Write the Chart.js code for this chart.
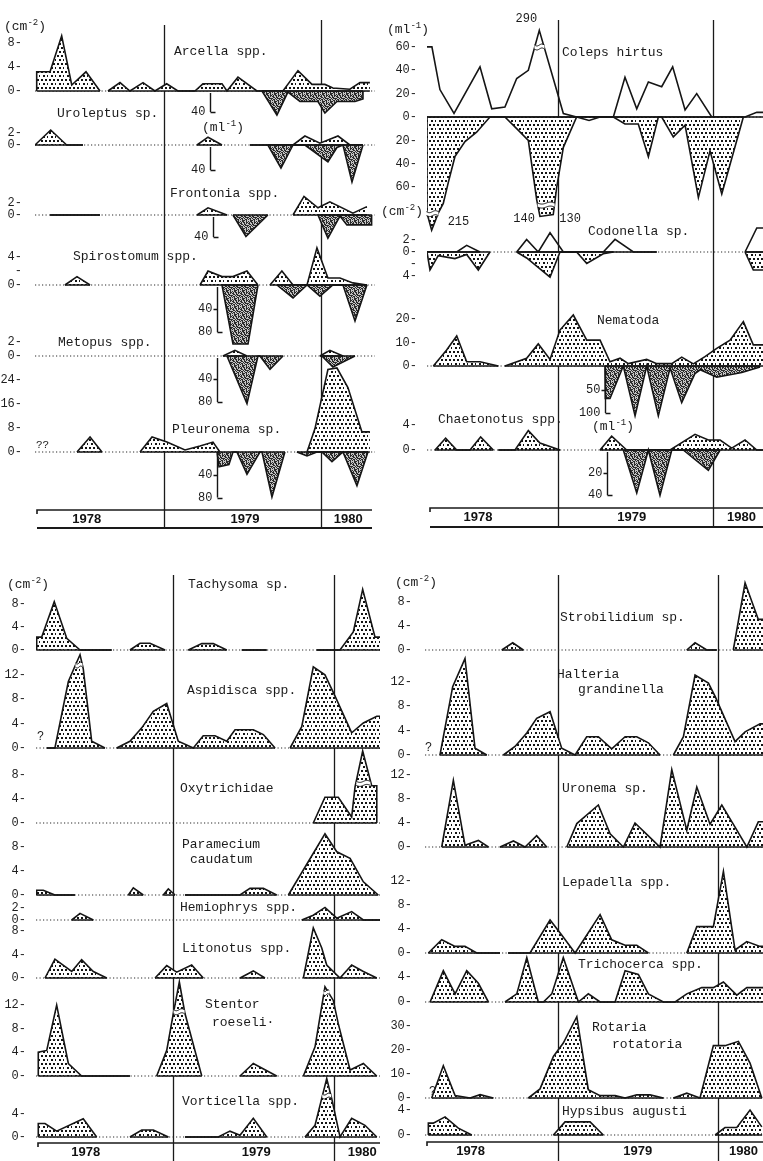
<!DOCTYPE html>
<html lang="en">
<head>
<meta charset="utf-8">
<title>Protozoa and micro-metazoa, 1978–1980</title>
<script src="https://cdn.jsdelivr.net/npm/chart.js@4.4.1/dist/chart.umd.min.js"></script>
<style>
  html, body { margin: 0; padding: 0; background: #fff; }
  #page { position: relative; width: 763px; height: 1161px; overflow: hidden; background: #fff; }
  #page canvas { position: absolute; }
  .t { position: absolute; font: 13px "Liberation Mono", "DejaVu Sans Mono", monospace; color: #1b1b1b; white-space: nowrap; line-height: 16px; }
  .t sup { font-size: 9px; line-height: 0; vertical-align: 5px; }
</style>
</head>
<body>
<div id="page"></div>
<script>
// Time axis: months counted from 1 January 1978 (12 = Jan 1979, 24 = Jan 1980).
const YEARS = ['1978', '1979', '1980'];
const YEAR_STARTS = [12, 24];

// Each series: [month, density]; null marks an interruption of sampling.
// ---- left upper block: periphyton (cm-2, upward) / plankton (ml-1, downward) ----
const ARCELLA_CM2 = [[2.27,0],[2.27,3.2],[3.29,3.2],[4.18,9.2],[4.95,1.0],[6.04,3.2],[7.11,0],[7.4,null],[7.72,0],[8.64,1.4],[9.40,0],[10.40,1.4],[11.31,0],[12.21,1.2],[13.07,0],[14.37,0],[14.98,1.2],[16.44,1.2],[16.82,0],[17.66,2.3],[19.11,0],[21.10,0],[22.25,3.4],[23.32,1.1],[24.31,1.1],[24.92,0.5],[26.22,0.3],[26.99,1.4],[27.75,1.4]];
const ARCELLA_ML = [[19.50,0],[20.64,46],[21.48,2],[22.40,20],[23.78,20],[24.31,42],[25.23,20],[26.61,20],[27.22,15],[27.22,0]];
const UROLEPTUS_CM2 = [[2.14,0],[3.34,2.5],[4.56,0],[5.81,0],[6.5,null],[14.53,0],[15.37,1.3],[16.44,0],[17.5,null],[18.58,0],[21.87,0],[22.78,1.5],[23.93,0.3],[25.31,1.5],[26.22,0],[27.22,0]];
const UROLEPTUS_ML = [[19.95,0],[20.95,37],[21.87,0],[22.78,0],[24.54,27],[25.23,4],[25.69,0],[26.38,59],[27.22,0]];
const FRONTONIA_CM2 = [[3.29,0],[7.11,0],[7.5,null],[14.53,0],[15.37,1.2],[16.82,0],[17.5,null],[21.87,0],[22.71,3.1],[23.78,1.2],[24.69,2.2],[26.45,0.3],[27.52,1.4]];
const FRONTONIA_ML = [[17.28,0],[18.27,39],[19.95,0],[20.5,null],[23.78,0],[24.54,42],[25.46,2],[25.99,18],[27.88,18],[27.88,0]];
const SPIROSTOMUM_CM2 = [[4.43,0],[5.35,1.2],[6.35,0],[6.8,null],[14.76,0],[15.37,2],[16.44,1.2],[17.28,1.2],[18.35,2],[19.19,0],[19.6,null],[20.11,0],[21.02,2],[21.87,0],[22.94,0],[23.70,5.3],[24.54,1],[25.46,1],[26.45,0.3],[27.52,0]];
const SPIROSTOMUM_ML = [[16.44,0],[17.28,100],[18.43,100],[19.19,0],[19.6,null],[20.64,0],[21.87,22],[22.94,0],[23.93,19],[24.92,0],[25.69,0],[26.61,61],[27.52,0]];
const METOPUS_CM2 = [[16.51,0],[17.43,0.8],[18.35,0],[18.8,null],[23.93,0],[24.69,0.8],[25.69,0]];
const METOPUS_ML = [[16.82,0],[18.35,83],[19.19,0],[19.34,0],[20.11,23],[21.10,0],[21.5,null],[24.08,0],[24.92,19],[26.61,0]];
const PLEURONEMA_CM2 = [[5.35,0],[6.35,5],[7.26,0],[7.6,null],[10.17,0],[11.09,5],[12.23,3.3],[13.61,0.7],[14.76,2],[15.75,3.3],[16.28,0],[16.6,null],[22.94,0],[23.55,7.8],[24.54,27.5],[25.23,28],[26.07,21.5],[27.14,6.7],[27.75,6.7]];
const PLEURONEMA_ML = [[16.06,0],[16.21,26],[16.97,22],[17.28,0],[17.58,0],[18.35,39],[19.34,0],[19.50,0],[20.26,79],[21.25,0],[21.6,null],[22.17,0],[22.94,7],[23.70,0],[24.08,0],[24.85,17],[25.69,0],[26.76,59],[27.60,0]];

// ---- right upper block ----
const COLEPS_ML = [[1.86,61],[2.24,61],[2.86,23.5],[3.95,3],[5.96,43],[6.87,7],[7.89,8.6],[8.80,33],[9.70,40],[10.55,290],[11.63,33],[12.41,3],[13.44,0],[16.28,0],[17.18,34],[18.09,7],[18.99,30],[20.02,26],[20.87,43],[21.83,6],[22.73,20],[23.89,0],[26.47,0],[27.38,4],[27.86,4]];
const COLEPS_CM2 = [[1.86,0],[1.86,122],[2.22,215],[2.73,122],[3.12,74],[3.51,56],[4.02,34],[4.80,21],[5.70,13],[6.73,0],[7.89,0],[8.80,10],[9.70,20],[10.35,71],[10.60,140],[11.63,130],[11.90,60],[12.41,26],[13.44,0],[14.40,3],[15.25,0],[16.28,0],[17.18,6],[18.21,6],[18.99,34],[19.76,0],[20.02,0],[20.92,17],[21.83,7],[22.86,69],[23.76,29],[24.67,66],[26.34,0]];
const CODONELLA_ML = [[1.86,0],[4.16,0],[4.93,1.1],[5.96,0],[6.2,null],[8.80,0],[9.57,2.1],[10.47,0],[11.38,3.2],[12.41,0],[13.44,0],[15.50,0],[16.41,2.1],[17.83,0],[19.64,0],[20.0,null],[26.47,0],[27.38,4],[27.86,4]];
const CODONELLA_CM2 = [[1.86,0],[2.09,3],[2.73,0.6],[4.02,1.1],[4.93,0.4],[5.83,3],[6.73,0],[7.2,null],[8.80,0],[9.57,1],[11.38,4.2],[12.15,0],[13.44,0],[14.22,1.9],[15.50,0.3],[16.28,0],[16.8,null],[26.47,0],[27.11,3],[27.86,3]];
const NEMATODA_CM2 = [[2.35,0],[3.38,6.8],[4.16,12.8],[4.93,1.8],[5.96,1.8],[7.38,0],[7.6,null],[7.89,0],[9.57,3.3],[10.47,9.4],[11.38,2.8],[12.15,15.3],[13.18,21.7],[14.22,11],[15.25,11],[16.02,1.8],[16.80,3.3],[17.44,1],[18.86,2.8],[19.64,1],[20.80,1],[21.57,3.8],[22.47,0.9],[23.37,4],[24.28,7.5],[25.31,11],[26.34,18.9],[27.11,9],[27.86,9]];
const NEMATODA_ML = [[15.63,0],[15.66,69],[16.02,69],[17.05,0],[17.96,106],[18.86,0],[19.76,106],[20.67,4],[21.57,78],[22.60,16],[23.0,8],[24.28,24],[26.22,14],[27.63,2]];
const CHAETONOTUS_CM2 = [[2.48,0],[3.30,1.9],[4.16,0],[5.19,0],[6.01,2.1],[6.99,0],[7.2,null],[7.38,0],[8.67,0],[9.70,3.1],[10.60,1.1],[12.15,0],[12.6,null],[15.25,0],[16.15,2.2],[17.31,0],[20.67,0],[22.60,2.5],[23.63,1.6],[24.54,1.6],[25.44,0.3],[26.47,1.6],[27.38,0],[27.86,0]];
const CHAETONOTUS_ML = [[17.05,0],[18.09,38],[18.99,0],[19.89,40],[20.80,0],[21.69,0],[23.63,18],[24.54,0]];

// ---- left lower block (cm-2) ----
const TACHYSOMA_CM2 = [[1.84,0],[1.84,2.2],[2.21,2.2],[3.15,8.3],[4.08,2],[5.07,0],[7.43,0],[7.9,null],[8.79,0],[9.54,1.15],[10.28,1.15],[11.40,0],[11.9,null],[13.14,0],[14.14,1.1],[15.00,1.1],[16.00,0],[16.5,null],[17.12,0],[18.98,0],[19.5,null],[22.70,0],[24.44,0],[25.43,3.1],[26.13,10.4],[27.05,2.2],[27.42,2.2]];
const ASPIDISCA_CM2 = [[2.59,0],[3.20,0],[4.20,10.9],[4.69,13.4],[5.07,15.3],[5.31,13],[5.94,1.1],[6.93,0],[7.3,null],[7.80,0],[8.79,1.1],[9.67,3.3],[10.53,6],[11.53,7.3],[12.39,1.1],[13.51,0],[14.25,2],[15.13,2],[16.00,1.1],[16.62,3],[17.98,3],[18.73,2.2],[19.60,0],[20.1,null],[20.72,0],[21.59,3.5],[22.45,13.3],[23.32,12],[24.07,8.5],[25.31,2.5],[26.18,4.1],[27.18,5.2],[27.42,5.2]];
const OXYTRICHIDAE_CM2 = [[22.45,0],[23.32,4.3],[24.31,4.3],[25.31,1],[25.56,6],[26.13,12],[26.80,6.2],[27.18,6.2],[27.18,0]];
const PARAMECIUM_CM2 = [[1.84,0],[1.84,0.8],[2.33,0.8],[3.20,0],[4.69,0],[5.0,null],[8.67,0],[9.04,1.2],[9.78,0],[10.2,null],[11.27,0],[11.65,1],[12.15,0],[12.5,null],[12.89,0],[16.99,0],[17.73,1.1],[18.73,1.1],[19.72,0],[20.1,null],[20.59,0],[23.32,10.2],[24.20,7.2],[25.19,6.1],[26.18,2.2],[27.29,0]];
const HEMIOPHRYS_CM2 = [[4.45,0],[5.07,1.1],[6.06,0],[6.4,null],[21.59,0],[22.45,0.8],[23.32,2.1],[24.20,0.3],[25.31,1.4],[26.18,0],[27.42,0]];
const LITONOTUS_CM2 = [[2.46,0],[3.20,3.2],[4.45,1.1],[5.19,3.1],[6.06,1.1],[7.06,0],[7.4,null],[10.66,0],[11.53,2.1],[12.27,1],[13.39,2.2],[14.25,0],[14.6,null],[16.99,0],[17.98,1.2],[18.85,0],[19.2,null],[21.71,0],[22.45,8.5],[23.08,5.1],[23.45,2.2],[24.44,0],[25.31,2.2],[26.18,1.1],[27.18,0]];
const STENTOR_CM2 = [[1.96,0],[1.96,4],[2.59,4.3],[3.33,11.9],[4.20,2.1],[5.19,0],[8.79,0],[9.2,null],[10.78,0],[11.53,4.3],[12.02,10.5],[12.47,15.8],[12.89,10.5],[14.14,0],[14.5,null],[16.99,0],[17.98,2.1],[19.72,0],[20.2,null],[21.71,0],[22.58,4.9],[23.32,15],[23.94,12.7],[24.31,8.8],[25.19,1],[26.18,2.1],[27.18,0]];
const VORTICELLA_CM2 = [[1.96,0],[1.96,2.3],[2.46,2.3],[3.33,1],[5.31,3.1],[6.31,0],[6.7,null],[8.79,0],[9.67,1.2],[10.53,1.2],[11.65,0],[12.5,null],[12.89,0],[15.37,0],[16.24,1],[16.99,0.3],[17.98,3.2],[18.98,0],[19.5,null],[21.83,0],[22.58,2],[23.08,6.6],[23.45,10],[23.82,6.6],[24.44,0],[25.31,3.2],[26.30,2],[27.18,0]];

// ---- right lower block (cm-2) ----
const STROBILIDIUM_CM2 = [[7.83,0],[8.65,1.2],[9.44,0],[9.8,null],[21.66,0],[22.28,1.2],[23.16,0],[23.90,0],[24.3,null],[25.14,0],[26.02,11.2],[27.01,5.1],[27.39,5.1]];
const HALTERIA_CM2 = [[3.21,0],[4.16,11.2],[5.08,15.8],[5.83,1.1],[6.71,0],[7.1,null],[7.95,0],[8.82,1.4],[9.70,3.6],[10.44,6],[11.44,7.1],[12.31,1.1],[13.31,0],[14.18,3],[15.05,3],[16.05,1],[17.05,3],[17.92,3],[18.79,2],[19.66,0],[20.1,null],[20.66,0],[21.41,3],[22.28,13.1],[23.28,11.8],[23.78,9.6],[25.27,2.2],[26.02,3.8],[27.14,5.1],[27.39,5.1]];
const URONEMA_CM2 = [[3.34,0],[4.21,11.1],[5.08,0.3],[6.08,1.1],[6.83,0],[7.2,null],[7.70,0],[8.70,1],[9.57,0],[10.44,1.9],[11.19,0],[11.6,null],[12.69,0],[13.44,3.9],[15.05,7],[15.93,2.2],[16.92,0],[17.79,4],[18.67,2.1],[19.66,0],[20.54,12.9],[21.66,2.8],[22.41,10],[23.40,3.8],[24.28,7],[25.27,3.3],[26.15,0],[27.01,4.2],[27.39,4.2]];
const LEPADELLA_CM2 = [[2.34,0],[3.34,2.2],[4.34,1.1],[5.08,1.1],[5.96,0],[7.70,0],[8.0,null],[8.3,0],[9.94,0],[11.44,5.5],[12.31,3],[13.31,0],[15.18,6.4],[16.05,2.2],[17.05,1.3],[17.92,1.3],[18.79,0],[19.2,null],[21.66,0],[22.41,4.4],[23.65,4.4],[24.40,13.6],[25.27,0.5],[26.15,1.9],[27.14,1.1],[27.39,1.1]];
const TRICHOCERCA_CM2 = [[2.47,0],[3.46,5],[4.34,1.3],[5.21,5],[6.08,3],[6.83,0],[7.2,null],[8.07,0],[8.95,1.3],[9.70,7.1],[10.56,0],[10.94,0],[11.57,1.3],[12.43,7.1],[13.56,0],[14.30,1.3],[15.18,0],[16.30,0],[17.05,5],[18.04,4.4],[18.79,1.3],[19.91,0],[20.79,0],[21.66,1.3],[22.78,2.3],[23.65,2.3],[24.40,3.2],[25.40,1.1],[26.15,2.3],[27.39,2.3]];
const ROTARIA_CM2 = [[2.59,0],[3.46,13.5],[4.34,1],[5.46,0],[6.21,1.4],[7.20,0],[7.5,null],[9.82,0],[10.69,3.8],[11.69,17.4],[12.43,23],[13.44,34],[14.30,3.5],[15.18,1],[16.30,1],[17.05,0],[17.92,1.3],[18.92,1.3],[19.91,0],[20.3,null],[20.66,0],[21.66,2],[22.65,0],[23.65,21.9],[24.52,21.9],[25.52,23.7],[26.39,14.6],[27.27,0]];
const HYPSIBUS_CM2 = [[2.34,0],[2.34,1.9],[2.71,1.9],[3.59,2.9],[4.58,1.1],[5.59,0],[6.0,null],[11.69,0],[12.56,2.1],[14.43,2.1],[15.42,0],[15.8,null],[23.78,0],[24.52,1.2],[25.40,1.2],[26.39,4],[27.27,1.3]];

// ---------------------------------------------------------------------------
// Linear scale with a compressed section above `breakAt` (for the off-scale peaks).
class BrokenScale extends Chart.LinearScale {
  squash(v) {
    const at = this.options.breakAt, k = this.options.breakRatio;
    if (v === null || v === undefined || isNaN(v) || at === undefined) return v;
    return v > at ? at + (v - at) * k : v;
  }
  getPixelForValue(v) { return super.getPixelForValue(this.squash(v)); }
}
BrokenScale.id = 'broken';
BrokenScale.defaults = Chart.LinearScale.defaults;
Chart.register(BrokenScale);

// Fill textures: staggered dot screen for cm-2, grey speckle for ml-1.
function makeTile(size, paint) {
  const c = document.createElement('canvas');
  c.width = c.height = size;
  const g = c.getContext('2d');
  paint(g);
  return g.createPattern(c, 'repeat');
}
const DOT_CENTRES = [[1, 1], [5, 1], [3, 5], [7, 5]];
const DOTS = makeTile(8, g => {
  g.fillStyle = '#fff'; g.fillRect(0, 0, 8, 8);
  g.fillStyle = '#141414';
  DOT_CENTRES.forEach(([x, y]) => g.fillRect(x, y, 2, 2));
});
const SPECKLE_ROWS = [
  'x.xx..x.', '.x.xx.xx', 'xx..x.x.', '.xx.xx..',
  'x..x.xxx', '.xx.x..x', 'x.x..xx.', '..xxx.x.',
];
const DARK = makeTile(8, g => {
  SPECKLE_ROWS.forEach((r, j) => [...r].forEach((ch, i) => {
    g.fillStyle = ch === 'x' ? '#2b2b2b' : '#c4c4c4';
    g.fillRect(i, j, 1, 1);
  }));
});

// Quadrant geometry: canvas left/width, y-axis width and month range of the plot area.
const QUADS = {
  tl: { left: 0,   width: 375, axisW: 35, xmin: 2.14, xmax: 28.14, pad: 5 },
  tr: { left: 380, width: 383, axisW: 47, xmin: 1.86, xmax: 27.86, pad: 2 },
  bl: { left: 0,   width: 380, axisW: 36, xmin: 1.79, xmax: 27.42, pad: 2 },
  br: { left: 380, width: 383, axisW: 45, xmin: 2.09, xmax: 27.36, pad: 5 },
};

const PANELS = [
  { q: 'tl', base: 91,  up: 61, down: 30, pu: 6,    pd: 0.525, ticks: [0, 4, 8], pos: ARCELLA_CM2, neg: ARCELLA_ML, hang: { x: 15.52, ticks: [40] } },
  { q: 'tl', base: 145, up: 22, down: 42, pu: 6,    pd: 0.625, ticks: [0, 2], pos: UROLEPTUS_CM2, neg: UROLEPTUS_ML, hang: { x: 15.52, ticks: [40] } },
  { q: 'tl', base: 215, up: 26, down: 30, pu: 6,    pd: 0.55,  ticks: [0, 2], pos: FRONTONIA_CM2, neg: FRONTONIA_ML, hang: { x: 15.75, ticks: [40] } },
  { q: 'tl', base: 285, up: 42, down: 64, pu: 7,    pd: 0.59,  ticks: [0, 2, 4], blank: [2], pos: SPIROSTOMUM_CM2, neg: SPIROSTOMUM_ML, hang: { x: 16.06, ticks: [40, 80] } },
  { q: 'tl', base: 356, up: 22, down: 52, pu: 7.15, pd: 0.575, ticks: [0, 2], pos: METOPUS_CM2, neg: METOPUS_ML, hang: { x: 16.06, ticks: [40, 80] } },
  { q: 'tl', base: 452, up: 94, down: 50, pu: 3,    pd: 0.57,  ticks: [0, 8, 16, 24], pos: PLEURONEMA_CM2, neg: PLEURONEMA_ML, hang: { x: 16.06, ticks: [40, 80] } },

  { q: 'tr', base: 117, up: 106, down: 120, pu: 1.167, pd: 1.167, ticks: [60, 40, 20, 0, -20, -40, -60],
    pos: COLEPS_ML, posFill: 'none', neg: COLEPS_CM2, negFill: 'dots',
    posBreak: { breakAt: 60, breakRatio: 0.062 }, negBreak: { breakAt: 75, breakRatio: 0.157 },
    breaks: [ { x: 10.56, v: 60, axis: 'y', w: 10 }, { x: 2.28, v: 125, axis: 'yN', w: 12 }, { x: 11.08, v: 78, axis: 'yN', w: 17 } ],
    notes: [ { x: 10.55, v: 290, axis: 'y', text: '290', dx: -13, dy: -12, align: 'center' },
             { x: 2.22, v: 215, axis: 'yN', text: '215', dx: 16, dy: -8, align: 'left' },
             { x: 10.60, v: 140, axis: 'yN', text: '140', dx: -5, dy: 2, align: 'right' },
             { x: 11.63, v: 130, axis: 'yN', text: '130', dx: 6, dy: 4, align: 'left' } ] },
  { q: 'tr', base: 252, up: 27, down: 32, pu: 6, pd: 6, ticks: [2, 0, -2, -4], blank: [-2], pos: CODONELLA_ML, posFill: 'none', neg: CODONELLA_CM2, negFill: 'dots' },
  { q: 'tr', base: 366, up: 56, down: 54, pu: 2.35, pd: 0.47, ticks: [0, 10, 20], pos: NEMATODA_CM2, neg: NEMATODA_ML, hang: { x: 15.63, ticks: [50, 100] } },
  { q: 'tr', base: 450, up: 35, down: 53, pu: 6.25, pd: 1.13, ticks: [0, 4], pos: CHAETONOTUS_CM2, neg: CHAETONOTUS_ML, hang: { x: 15.77, ticks: [20, 40] } },

  { q: 'bl', base: 650,  up: 70,  down: 5, pu: 5.83, ticks: [0, 4, 8], pos: TACHYSOMA_CM2 },
  { q: 'bl', base: 748,  up: 100, down: 5, pu: 6.1,  ticks: [0, 4, 8, 12], pos: ASPIDISCA_CM2, breaks: [ { x: 4.99, v: 13.6, w: 7 } ] },
  { q: 'bl', base: 823,  up: 78,  down: 5, pu: 6,    ticks: [0, 4, 8], pos: OXYTRICHIDAE_CM2, breaks: [ { x: 26.18, v: 6.6, w: 14 } ] },
  { q: 'bl', base: 895,  up: 68,  down: 5, pu: 6,    ticks: [0, 4, 8], pos: PARAMECIUM_CM2 },
  { q: 'bl', base: 920,  up: 20,  down: 4, pu: 6,    ticks: [0, 2], pos: HEMIOPHRYS_CM2 },
  { q: 'bl', base: 978,  up: 58,  down: 5, pu: 5.9,  ticks: [0, 4, 8], pos: LITONOTUS_CM2 },
  { q: 'bl', base: 1076, up: 102, down: 5, pu: 5.95, ticks: [0, 4, 8, 12], pos: STENTOR_CM2, breaks: [ { x: 12.45, v: 10.8, w: 11 }, { x: 23.42, v: 14, w: 6 } ] },
  { q: 'bl', base: 1137, up: 64,  down: 5, pu: 5.85, ticks: [0, 4], pos: VORTICELLA_CM2, breaks: [ { x: 23.45, v: 7, w: 9 } ] },

  { q: 'br', base: 650,  up: 72,  down: 5, pu: 6,    ticks: [0, 4, 8], pos: STROBILIDIUM_CM2 },
  { q: 'br', base: 755,  up: 100, down: 5, pu: 6.1,  ticks: [0, 4, 8, 12], pos: HALTERIA_CM2 },
  { q: 'br', base: 847,  up: 84,  down: 5, pu: 6,    ticks: [0, 4, 8, 12], pos: URONEMA_CM2 },
  { q: 'br', base: 953,  up: 88,  down: 5, pu: 6,    ticks: [0, 4, 8, 12], pos: LEPADELLA_CM2 },
  { q: 'br', base: 1002, up: 50,  down: 5, pu: 6.25, ticks: [0, 4], pos: TRICHOCERCA_CM2 },
  { q: 'br', base: 1098, up: 88,  down: 5, pu: 2.39, ticks: [0, 10, 20, 30], pos: ROTARIA_CM2 },
  { q: 'br', base: 1135, up: 35,  down: 5, pu: 6.25, ticks: [0, 4], pos: HYPSIBUS_CM2 },
];

// Year separators and the year bar under each block.
const FRAMES = [
  { q: 'tl', top: 10,  height: 525, lineSpans: [[25, 528], [20, 528]], barTop: 510, barBottom: 528, barX: [37, 372], textY: 519, labelAt: [6.1, 18.2, 26.1] },
  { q: 'tr', top: 10,  height: 525, lineSpans: [[20, 527], [20, 527]], barTop: 508, barBottom: 527, barX: [430, 763], textY: 517, labelAt: [5.8, 17.7, 26.2] },
  { q: 'bl', top: 565, height: 596, lineSpans: [[575, 1161], [575, 1161]], barTop: 1143, barBottom: null, barX: [38, 380], textY: 1152, labelAt: [5.5, 18.2, 26.1] },
  { q: 'br', top: 565, height: 596, lineSpans: [[575, 1161], [575, 1161]], barTop: 1142, barBottom: null, barX: [427, 763], textY: 1151, labelAt: [5.5, 18.0, 25.9] },
];

// Names and unit captions: [html, left, centre y, font size]
const TEXTS = [
  ['(cm<sup>-2</sup>)', 4, 27], ['Arcella spp.', 174, 52], ['Uroleptus sp.', 57, 114], ['(ml<sup>-1</sup>)', 202, 128],
  ['Frontonia spp.', 170, 194], ['Spirostomum spp.', 73, 257], ['Metopus spp.', 58, 343], ['Pleuronema sp.', 172, 430], ['??', 36, 445, 11],
  ['(ml<sup>-1</sup>)', 387, 30], ['Coleps hirtus', 562, 53], ['(cm<sup>-2</sup>)', 381, 212], ['Codonella sp.', 588, 232],
  ['Nematoda', 597, 321], ['Chaetonotus spp.', 438, 420], ['(ml<sup>-1</sup>)', 592, 427],
  ['(cm<sup>-2</sup>)', 7, 585], ['Tachysoma sp.', 188, 585], ['Aspidisca spp.', 187, 691], ['?', 37, 737, 12], ['Oxytrichidae', 180, 789],
  ['Paramecium', 182, 845], ['caudatum', 190, 860], ['Hemiophrys spp.', 180, 908], ['Litonotus spp.', 182, 949],
  ['Stentor', 205, 1005], ['roeseli·', 212, 1023], ['Vorticella spp.', 182, 1102],
  ['(cm<sup>-2</sup>)', 395, 583], ['Strobilidium sp.', 560, 618], ['Halteria', 557, 675], ['grandinella', 578, 690], ['?', 425, 748, 12],
  ['Uronema sp.', 562, 789], ['Lepadella spp.', 562, 883], ['Trichocerca spp.', 578, 965], ['Rotaria', 592, 1028], ['rotatoria', 612, 1045],
  ['?', 429, 1092, 12], ['Hypsibus augusti', 562, 1112],
];

// ---------------------------------------------------------------------------
const page = document.getElementById('page');
const MONO = '"Liberation Mono", "DejaVu Sans Mono", monospace';
const INK = '#151515';

function addCanvas(left, top, w, h) {
  const cv = document.createElement('canvas');
  cv.width = w; cv.height = h;
  cv.style.left = left + 'px'; cv.style.top = top + 'px';
  page.appendChild(cv);
  return cv;
}

function seriesDataset(s, axis, style, order) {
  return {
    data: s.map(([x, y]) => ({ x, y })),
    yAxisID: axis,
    borderColor: INK,
    borderWidth: 1.6,
    fill: style === 'none' ? false : 'origin',
    backgroundColor: style === 'dots' ? DOTS : style === 'dark' ? DARK : 'transparent',
    order,
  };
}

// Break marks, hanging ml-1 axes and value notes drawn on top of the series.
function marksPlugin(p) {
  return {
    id: 'panelMarks',
    afterDatasetsDraw(chart) {
      const ctx = chart.ctx, x = chart.scales.x;
      ctx.save();
      (p.breaks || []).forEach(b => {
        const sc = chart.scales[b.axis || 'y'];
        const bx = x.getPixelForValue(b.x), by = sc.getPixelForValue(b.v);
        ctx.fillStyle = '#fff';
        ctx.fillRect(bx - b.w / 2, by - 2, b.w, 4);
        ctx.strokeStyle = INK; ctx.lineWidth = 1;
        [-2, 2].forEach(off => {
          ctx.beginPath();
          for (let i = 0; i <= b.w; i++) {
            const xx = bx - b.w / 2 + i, yy = by + off + Math.sin(i / b.w * Math.PI * 2) * 1;
            if (i) ctx.lineTo(xx, yy); else ctx.moveTo(xx, yy);
          }
          ctx.stroke();
        });
      });
      if (p.hang) {
        const yN = chart.scales.yN;
        const hx = Math.round(x.getPixelForValue(p.hang.x)) + 0.5;
        const last = p.hang.ticks[p.hang.ticks.length - 1];
        ctx.strokeStyle = INK; ctx.lineWidth = 1.4;
        ctx.beginPath();
        ctx.moveTo(hx, yN.getPixelForValue(0) + 2);
        ctx.lineTo(hx, yN.getPixelForValue(last));
        p.hang.ticks.forEach(t => {
          const ty = Math.round(yN.getPixelForValue(t)) + 0.5;
          if (t === last) { ctx.moveTo(hx, ty); ctx.lineTo(hx + 5, ty); }
          else { ctx.moveTo(hx - 4, ty); ctx.lineTo(hx, ty); }
        });
        ctx.stroke();
        ctx.fillStyle = '#1b1b1b'; ctx.font = '12px ' + MONO;
        ctx.textAlign = 'right'; ctx.textBaseline = 'middle';
        p.hang.ticks.forEach(t => ctx.fillText(String(t), hx - 5, yN.getPixelForValue(t)));
      }
      (p.notes || []).forEach(n => {
        const sc = chart.scales[n.axis || 'y'];
        ctx.fillStyle = '#1b1b1b'; ctx.font = '12px ' + MONO;
        ctx.textAlign = n.align || 'center'; ctx.textBaseline = 'middle';
        ctx.fillText(n.text, x.getPixelForValue(n.x) + (n.dx || 0), sc.getPixelForValue(n.v) + (n.dy || 0));
      });
      ctx.restore();
    }
  };
}

function makePanel(p) {
  const q = QUADS[p.q];
  const pd = p.pd || 1;
  const blank = p.blank || [];
  const cv = addCanvas(q.left, p.base - p.up, q.width, p.up + p.down);
  const datasets = [
    { data: [{ x: q.xmin, y: 0 }, { x: q.xmax, y: 0 }], yAxisID: 'y', borderColor: '#2a2a2a', borderWidth: 1.2, borderDash: [1.2, 2.3], fill: false, order: 5 },
  ];
  if (p.pos) datasets.push(seriesDataset(p.pos, 'y', p.posFill || 'dots', 3));
  if (p.neg) datasets.push(seriesDataset(p.neg, 'yN', p.negFill || 'dark', 2));
  [p.pos, p.neg].forEach(s => {
    if (!s) return;
    datasets.push({ data: s.map(([x, y]) => ({ x, y: y === null ? null : 0 })), yAxisID: 'y', borderColor: INK, borderWidth: 1.4, fill: false, order: 1 });
  });
  new Chart(cv, {
    type: 'line',
    data: { datasets },
    options: {
      responsive: false, animation: false, events: [], devicePixelRatio: 1,
      layout: { padding: 0 },
      elements: { point: { radius: 0, hoverRadius: 0 }, line: { tension: 0, borderJoinStyle: 'miter' } },
      plugins: { legend: { display: false }, tooltip: { enabled: false } },
      scales: {
        x: { type: 'linear', min: q.xmin, max: q.xmax, display: false, bounds: 'data' },
        y: Object.assign({
          type: p.posBreak ? 'broken' : 'linear', position: 'left',
          min: -p.down / p.pu, max: p.up / p.pu, bounds: 'data',
          grid: { display: false }, border: { display: false },
          ticks: { autoSkip: false, padding: q.pad, color: '#1e1e1e', font: { family: MONO, size: 12 },
                   callback: v => blank.includes(v) ? '-' : Math.abs(v) + '-' },
          afterBuildTicks: s => { s.ticks = p.ticks.map(v => ({ value: v })); },
          afterFit: s => { s.width = q.axisW; s.paddingTop = 0; s.paddingBottom = 0; },
        }, p.posBreak || {}),
        yN: Object.assign({
          type: p.negBreak ? 'broken' : 'linear', display: false, reverse: true,
          min: -p.up / pd, max: p.down / pd, bounds: 'data',
        }, p.negBreak || {}),
      },
    },
    plugins: [marksPlugin(p)],
  });
}

function framePlugin(f, q) {
  return {
    id: 'yearFrame',
    afterDraw(chart) {
      const ctx = chart.ctx, x = chart.scales.x, T = f.top, L = q.left;
      ctx.save();
      ctx.strokeStyle = '#1a1a1a';
      ctx.lineWidth = 1.3;
      YEAR_STARTS.forEach((m, i) => {
        const px = Math.round(x.getPixelForValue(m)) + 0.5;
        const [y0, y1] = f.lineSpans[i];
        ctx.beginPath(); ctx.moveTo(px, y0 - T); ctx.lineTo(px, y1 - T); ctx.stroke();
      });
      ctx.lineWidth = 1.6;
      ctx.beginPath();
      ctx.moveTo(f.barX[0] - L, f.barTop - T + 4);
      ctx.lineTo(f.barX[0] - L, f.barTop - T);
      ctx.lineTo(f.barX[1] - L, f.barTop - T);
      ctx.stroke();
      if (f.barBottom) {
        ctx.lineWidth = 2.2;
        ctx.beginPath(); ctx.moveTo(f.barX[0] - L, f.barBottom - T); ctx.lineTo(f.barX[1] - L, f.barBottom - T); ctx.stroke();
      }
      ctx.fillStyle = '#111';
      ctx.font = 'bold 13px "Liberation Sans", Arial, sans-serif';
      ctx.textAlign = 'center'; ctx.textBaseline = 'middle';
      YEARS.forEach((yr, i) => ctx.fillText(yr, x.getPixelForValue(f.labelAt[i]), f.textY - T));
      ctx.restore();
    }
  };
}

function makeFrame(f) {
  const q = QUADS[f.q];
  const cv = addCanvas(q.left, f.top, q.width, f.height);
  new Chart(cv, {
    type: 'line',
    data: { datasets: [] },
    options: {
      responsive: false, animation: false, events: [], devicePixelRatio: 1,
      layout: { padding: { left: q.axisW, right: 0, top: 0, bottom: 0 } },
      plugins: { legend: { display: false }, tooltip: { enabled: false } },
      scales: {
        x: { type: 'linear', min: q.xmin, max: q.xmax, display: false, bounds: 'data' },
        y: { type: 'linear', min: 0, max: 1, display: false },
      },
    },
    plugins: [framePlugin(f, q)],
  });
}

FRAMES.forEach(makeFrame);
PANELS.forEach(makePanel);

TEXTS.forEach(([html, left, cy, size]) => {
  const d = document.createElement('div');
  d.className = 't';
  d.innerHTML = html;
  d.style.left = left + 'px';
  d.style.top = (cy - 8) + 'px';
  if (size) d.style.fontSize = size + 'px';
  page.appendChild(d);
});
</script>
</body>
</html>
